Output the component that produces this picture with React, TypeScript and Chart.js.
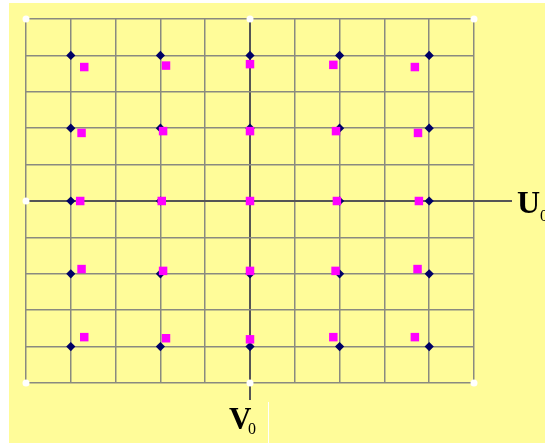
import React, { useEffect, useRef } from "react";
import { Chart, registerables } from "chart.js";

Chart.register(...registerables);

// Reference grid points (blue diamonds), in grid units
const diamondX = [-4, -2, 0, 2, 4, -4, -2, 0, 2, 4, -4, -2, 0, 2, 4, -4, -2, 0, 2, 4, -4, -2, 0, 2, 4];
const diamondY = [4, 4, 4, 4, 4, 2, 2, 2, 2, 2, 0, 0, 0, 0, 0, -2, -2, -2, -2, -2, -4, -4, -4, -4, -4];

// Distorted points (magenta squares), in grid units
const pinkX = [
  -3.7, -1.875, 0, 1.86, 3.68,
  -3.76, -1.94, 0, 1.92, 3.75,
  -3.79, -1.97, 0, 1.94, 3.77,
  -3.76, -1.94, 0, 1.91, 3.74,
  -3.7, -1.875, 0, 1.86, 3.68,
];
const pinkY = [
  3.68, 3.72, 3.76, 3.74, 3.68,
  1.87, 1.92, 1.92, 1.92, 1.87,
  0, 0, 0, 0, 0,
  -1.87, -1.92, -1.92, -1.92, -1.87,
  -3.74, -3.77, -3.8, -3.74, -3.74,
];

// White marker dots at frame corners / axis ends
const dotX = [-5, 0, 5, -5, -5, 0, 5];
const dotY = [5, 5, 5, 0, -5, -5, -5];

const axisMin = -5;
const axisMax = 5;
const xLabel = "U";
const yLabel = "V";
const subLabel = "0";

const toPts = (xs: number[], ys: number[]) => xs.map((x, i) => ({ x, y: ys[i] }));

export default function App() {
  const ref = useRef<HTMLCanvasElement>(null);

  useEffect(() => {
    const canvas = ref.current;
    if (!canvas) return;

    const overlay = {
      id: "overlay",
      beforeDatasetsDraw(chart: any) {
        const { ctx, scales, chartArea } = chart;
        const x0 = scales.x.getPixelForValue(0);
        const y0 = scales.y.getPixelForValue(0);
        ctx.save();
        ctx.strokeStyle = "#555555";
        ctx.lineWidth = 2;
        ctx.beginPath();
        ctx.moveTo(chartArea.right, y0);
        ctx.lineTo(chartArea.right + 38, y0);
        ctx.moveTo(x0, chartArea.bottom);
        ctx.lineTo(x0, chartArea.bottom + 17);
        ctx.stroke();
        ctx.restore();
      },
      afterDraw(chart: any) {
        const { ctx, scales, chartArea } = chart;
        const x0 = scales.x.getPixelForValue(0);
        const y0 = scales.y.getPixelForValue(0);
        ctx.save();
        ctx.fillStyle = "#000000";
        ctx.textBaseline = "alphabetic";
        ctx.textAlign = "left";
        ctx.font = "bold 32px 'Liberation Serif', 'Times New Roman', serif";
        ctx.fillText(xLabel, chartArea.right + 43, y0 + 12);
        ctx.font = "16px 'Liberation Serif', 'Times New Roman', serif";
        ctx.fillText(subLabel, chartArea.right + 66, y0 + 20);
        ctx.font = "bold 31px 'Liberation Serif', 'Times New Roman', serif";
        ctx.fillText(yLabel, x0 - 21, chartArea.bottom + 46);
        ctx.font = "16px 'Liberation Serif', 'Times New Roman', serif";
        ctx.fillText(subLabel, x0 - 2, chartArea.bottom + 51);
        ctx.strokeStyle = "#ffffff";
        ctx.lineWidth = 1;
        ctx.beginPath();
        ctx.moveTo(x0 + 18.5, chartArea.bottom + 19);
        ctx.lineTo(x0 + 18.5, chartArea.bottom + 60);
        ctx.stroke();
        ctx.restore();
      },
    };

    const gridColor = (c: any) => (c.tick && c.tick.value === 0 ? "#555555" : "#8a8a80");
    const gridWidth = (c: any) => (c.tick && c.tick.value === 0 ? 2 : 1.5);

    const chart = new Chart(canvas, {
      type: "scatter",
      data: {
        datasets: [
          {
            label: "dots",
            data: toPts(dotX, dotY),
            pointStyle: "circle",
            pointRadius: 3.5,
            backgroundColor: "#ffffff",
            borderColor: "#ffffff",
            borderWidth: 0,
            clip: false,
          } as any,
          {
            label: "distorted",
            data: toPts(pinkX, pinkY),
            pointStyle: "rect",
            pointRadius: 6,
            backgroundColor: "#ff00ff",
            borderColor: "#ff00ff",
            borderWidth: 0,
          },
          {
            label: "grid",
            data: toPts(diamondX, diamondY),
            pointStyle: "rectRot",
            pointRadius: 4.6,
            backgroundColor: "#000066",
            borderColor: "#000066",
            borderWidth: 0,
          },
        ],
      },
      options: {
        animation: false,
        responsive: false,
        devicePixelRatio: 1,
        layout: { padding: { left: 17, top: 16, right: 71, bottom: 60 } },
        plugins: { legend: { display: false }, tooltip: { enabled: false } },
        scales: {
          x: {
            type: "linear",
            min: axisMin,
            max: axisMax,
            ticks: { display: false, stepSize: 1 },
            grid: { color: gridColor, lineWidth: gridWidth, drawTicks: false },
            border: { display: false },
          },
          y: {
            type: "linear",
            min: axisMin,
            max: axisMax,
            ticks: { display: false, stepSize: 1 },
            grid: { color: gridColor, lineWidth: gridWidth, drawTicks: false },
            border: { display: false },
          },
        },
      },
      plugins: [overlay],
    });
    return () => chart.destroy();
  }, []);

  return (
    <div
      style={{
        position: "absolute",
        left: 9,
        top: 3,
        width: 536,
        height: 440,
        background: "#FFFC99",
      }}
    >
      <canvas ref={ref} width={536} height={440} style={{ display: "block" }} />
    </div>
  );
}
